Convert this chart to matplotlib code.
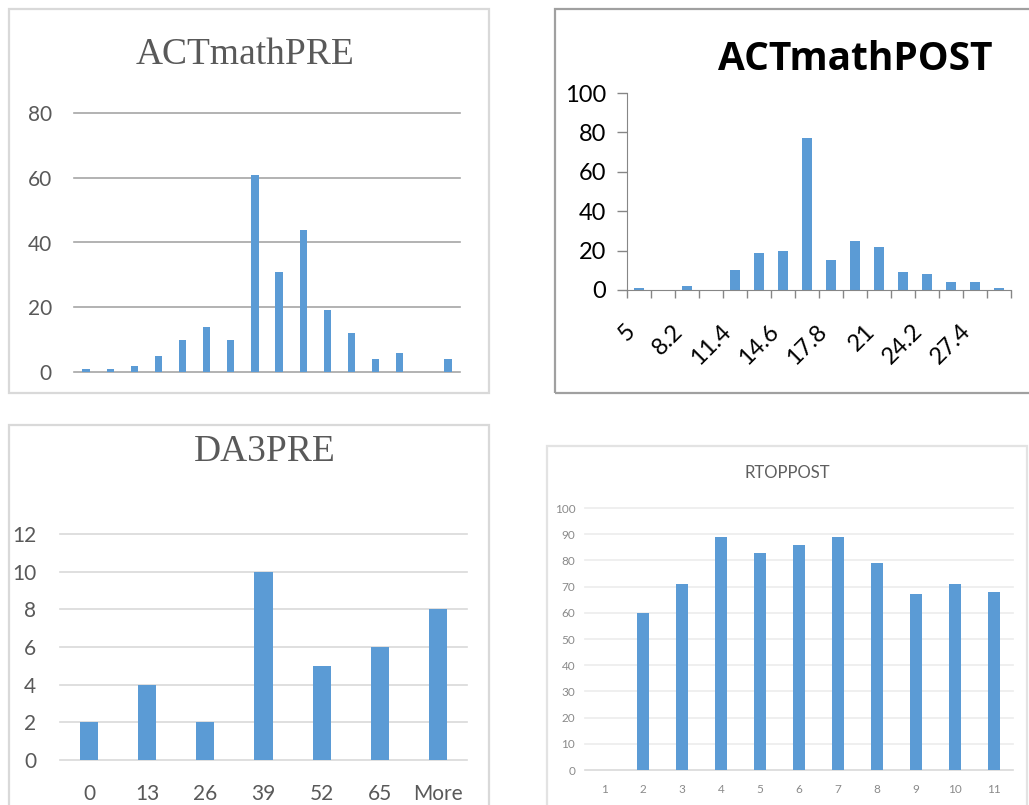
import matplotlib
matplotlib.use("Agg")
import matplotlib.pyplot as plt
import numpy as np
from matplotlib.patches import Rectangle

W, H = 1029, 805

# ACTmathPRE histogram counts (16 bins, labels not shown)
pre_counts = [1, 1, 2, 5, 10, 14, 10, 61, 31, 44, 19, 12, 4, 6, 0, 4]

# ACTmathPOST histogram
post_bins = ["5", "6.6", "8.2", "9.8", "11.4", "13", "14.6", "16.2",
             "17.8", "19.4", "21", "22.6", "24.2", "25.8", "27.4", "More"]
post_counts = [1, 0, 2, 0, 10, 19, 20, 77, 15, 25, 22, 9, 8, 4, 4, 1]

# DA3PRE histogram
da3_bins = ["0", "13", "26", "39", "52", "65", "More"]
da3_counts = [2, 4, 2, 10, 5, 6, 8]

# RTOPPOST
rtop_bins = ["1", "2", "3", "4", "5", "6", "7", "8", "9", "10", "11"]
rtop_counts = [0, 60, 71, 89, 83, 86, 89, 79, 67, 71, 68]

BLUE = "#5b9bd5"
SANS = ["Lato", "DejaVu Sans"]
SERIF = ["Liberation Serif", "DejaVu Serif"]

fig = plt.figure(figsize=(W / 100, H / 100), dpi=100)
fig.patch.set_facecolor("white")


def px_axes(x0, y0, x1, y1):
    return fig.add_axes([x0 / W, 1 - y1 / H, (x1 - x0) / W, (y1 - y0) / H])


def frame(x0, y0, x1, y1, color, lw=1.6):
    fig.patches.append(Rectangle((x0 / W, 1 - y1 / H), (x1 - x0) / W, (y1 - y0) / H,
                                 transform=fig.transFigure, fill=False,
                                 edgecolor=color, linewidth=lw))


def excel_grid(ax, ymax, step, gridcolor, zerocolor):
    ax.set_ylim(0, ymax)
    for s in ax.spines.values():
        s.set_visible(False)
    for v in np.arange(0, ymax + step / 2, step):
        ax.axhline(v, color=zerocolor if v == 0 else gridcolor, lw=1.2,
                   zorder=0, clip_on=False)
    ax.set_yticks(np.arange(0, ymax + step / 2, step))


# ---- ACTmathPRE ----
frame(9, 9, 489, 393, "#d9d9d9")
ax1 = px_axes(74, 113, 460, 372)
x = np.arange(len(pre_counts))
ax1.bar(x, pre_counts, width=0.3, color=BLUE, zorder=2)
ax1.set_xlim(-0.5, len(pre_counts) - 0.5)
excel_grid(ax1, 80, 20, "#a6a6a6", "#a6a6a6")
ax1.set_xticks([])
ax1.tick_params(axis="y", length=0, pad=16, labelsize=15, labelcolor="#595959")
for t in ax1.get_yticklabels():
    t.set_family(SANS)
fig.text(245 / W, 1 - 55 / H, "ACTmathPRE", family=SERIF, fontsize=27,
         color="#595959", ha="center", va="center")

# ---- ACTmathPOST ----
frame(555, 9, 1032, 393, "#a0a0a0")
ax2 = px_axes(627, 93, 1011, 290)
x = np.arange(len(post_counts))
ax2.bar(x, post_counts, width=0.42, color=BLUE, zorder=2)
ax2.set_xlim(-0.5, len(post_counts) - 0.5)
ax2.set_ylim(0, 100)
ax2.spines["top"].set_visible(False)
ax2.spines["right"].set_visible(False)
ax2.spines["left"].set_color("#868686")
ax2.spines["bottom"].set_color("#868686")
ax2.set_yticks(np.arange(0, 101, 20))
ax2.tick_params(axis="y", length=7, width=1, color="#868686", pad=8,
                labelsize=17, labelcolor="black")
ax2.set_xticks(x[::2])
ax2.set_xticklabels(post_bins[::2], rotation=45, ha="right")
ax2.set_xticks(np.arange(-0.5, len(post_counts)), minor=True)
ax2.tick_params(axis="x", which="major", length=0, pad=22, labelsize=17)
ax2.tick_params(axis="x", which="minor", length=6, width=1, color="#868686")
for t in ax2.get_yticklabels() + ax2.get_xticklabels():
    t.set_family(SANS)
fig.text(855 / W, 1 - 60 / H, "ACTmathPOST", family=["Open Sans", "DejaVu Sans"],
         fontsize=28, fontweight="bold", color="black", ha="center", va="center")

# ---- DA3PRE ----
frame(9, 425, 489, 812, "#d9d9d9")
ax3 = px_axes(60, 534, 467, 760)
x = np.arange(len(da3_counts))
ax3.bar(x, da3_counts, width=0.31, color=BLUE, zorder=2)
ax3.set_xlim(-0.5, len(da3_counts) - 0.5)
excel_grid(ax3, 12, 2, "#d9d9d9", "#d9d9d9")
ax3.set_xticks(x)
ax3.set_xticklabels(da3_bins)
ax3.tick_params(axis="both", length=0, labelsize=15, labelcolor="#595959")
ax3.tick_params(axis="y", pad=17)
ax3.tick_params(axis="x", pad=17)
for t in ax3.get_yticklabels() + ax3.get_xticklabels():
    t.set_family(SANS)
fig.text(265 / W, 1 - 452 / H, "DA3PRE", family=SERIF, fontsize=27,
         color="#595959", ha="center", va="center")

# ---- RTOPPOST ----
frame(547, 446, 1027, 812, "#e3e3e3")
ax4 = px_axes(585, 508, 1013, 770)
x = np.arange(len(rtop_counts))
ax4.bar(x, rtop_counts, width=0.31, color=BLUE, zorder=2)
ax4.set_xlim(-0.5, len(rtop_counts) - 0.5)
excel_grid(ax4, 100, 10, "#ececec", "#d9d9d9")
ax4.set_xticks(x)
ax4.set_xticklabels(rtop_bins)
ax4.tick_params(axis="both", length=0, labelsize=8.5, labelcolor="#8a8a8a")
ax4.tick_params(axis="y", pad=7)
ax4.tick_params(axis="x", pad=10)
for t in ax4.get_yticklabels() + ax4.get_xticklabels():
    t.set_family(SANS)
fig.text(787 / W, 1 - 473 / H, "RTOPPOST", family=SANS, fontsize=12,
         color="#5f5f5f", ha="center", va="center")

fig.savefig("out.png", dpi=100, facecolor="white")
